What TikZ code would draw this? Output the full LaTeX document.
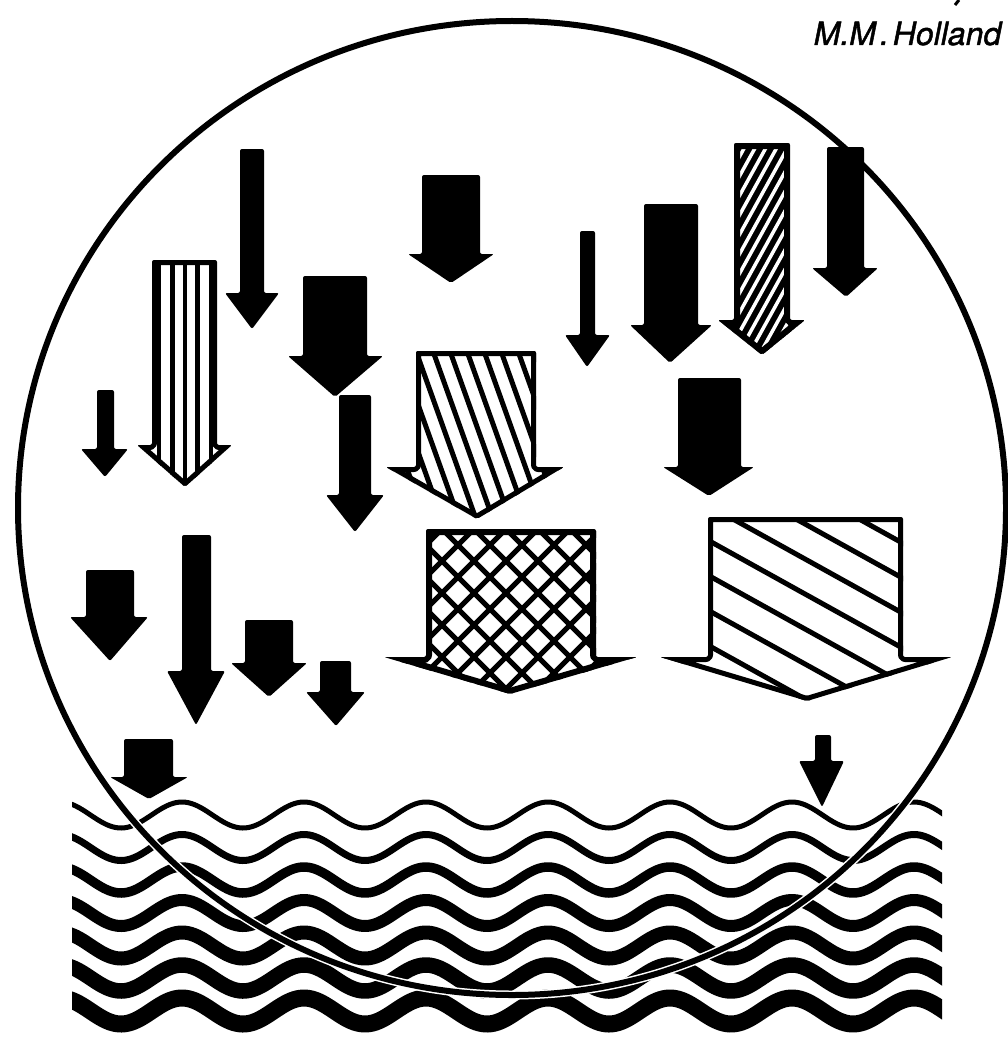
\documentclass[tikz,border=0pt]{standalone}
\usepackage{fontspec}
\newfontface\hfont[FakeSlant=0.2,FakeBold=1.5]{TeX Gyre Heros}
\newcommand\defarrow[9]{%
  \coordinate (#1-1) at (#2,#4);
  \coordinate (#1-2) at (#3,#4);
  \coordinate (#1-3) at (#3,#5);
  \coordinate (#1-4) at (#7,#5);
  \coordinate (#1-5) at (#8,#9);
  \coordinate (#1-6) at (#6,#5);
  \coordinate (#1-7) at (#2,#5);}
\newcommand\arrshape[1]{(#1-1) -- (#1-2) -- (#1-3) -- (#1-4) -- (#1-5) -- (#1-6) -- (#1-7) -- cycle}
\begin{document}
\begin{tikzpicture}[x=1pt,y=-1pt,
  solidarrow/.style={fill=black, rounded corners=2pt},
  hatchline/.style={line width=5pt},
  outline/.style={draw=black, line width=#1, rounded corners=2pt, line join=round}]
\useasboundingbox (0,0) rectangle (1008,1038);
\fill[white] (0,0) rectangle (1008,1038);

% ---------- waves ----------
\begin{scope}
  \clip (72,700) rectangle (942,1038);
  \foreach \yy/\ww in {815/5, 847.5/7, 880/9.5, 913/12, 945.5/14, 978/15.5, 1011/17}
    \draw[line width=\ww pt] plot[domain=55:960, samples=300, smooth]
      (\x, {\yy - 13*cos(2.95082*(\x-182))});
\end{scope}

% ---------- circle ----------
\coordinate (cc) at (512,508);
\draw[white, line width=9pt] (cc) ellipse[x radius=494, y radius=487];
\draw[black, line width=6pt] (cc) ellipse[x radius=494, y radius=487];

% ---------- arrow geometry ----------
\defarrow{b1}{240}{264}{149}{293}{225}{279}{252}{329}
\defarrow{b3}{97}{114}{390}{449}{81}{128}{105}{477}
\defarrow{b4}{303}{367}{276}{356}{288}{383}{335}{397}
\defarrow{b5}{339}{371}{395}{495}{326}{384}{355}{532}
\defarrow{b6}{422}{480}{175}{254}{408}{494}{451}{283}
\defarrow{b8}{580}{595}{231}{335}{565}{610}{587}{367}
\defarrow{b9}{644}{698}{204}{325}{630}{712}{670}{363}
\defarrow{b11}{827}{864}{147}{268}{812}{878}{846}{297}
\defarrow{b12}{678}{741}{378}{467}{663}{754}{709}{496}
\defarrow{la}{86}{134}{570}{617}{70}{148}{110}{661}
\defarrow{lb}{182}{211}{535}{671}{167}{225}{196}{725}
\defarrow{lc}{245}{293}{620}{663}{231}{307}{269}{697}
\defarrow{ld}{320}{351}{661}{692}{306}{365}{336}{726}
\defarrow{le}{124}{173}{739}{777}{110}{188}{149}{799}
\defarrow{br}{815}{831}{735}{761}{799}{844}{822}{807}
\defarrow{h2}{152}{217}{260}{445}{137}{232}{185}{487}
\defarrow{h7}{416}{536}{351}{467}{386}{564}{477}{519}
\defarrow{h10}{734}{790}{143}{320}{718}{805}{762}{355}
\defarrow{h13}{426}{596}{529}{657}{384}{637}{510}{694}
\defarrow{h14}{708}{903}{517}{657}{660}{952}{807}{701}

% ---------- solid arrows ----------
\foreach \n in {b1,b3,b4,b5,b6,b8,b9,b11,b12,la,lb,lc,ld,le,br}
  \fill[solidarrow] \arrshape{\n};

% ---------- vertical stripes ----------
\begin{scope}
  \clip[rounded corners=2pt] \arrshape{h2};
  \fill[white] \arrshape{h2};
  \foreach \xx in {159,172.5,185,197.5,211}
    \draw[line width=4.5pt] (\xx,250) -- (\xx,495);
  \path[outline=10pt] \arrshape{h2};
\end{scope}

% ---------- steep backslash hatch ----------
\begin{scope}
  \clip[rounded corners=2pt] \arrshape{h7};
  \fill[white] \arrshape{h7};
  \foreach \k in {0,...,16}
    \draw[hatchline] ({310+17*\k},340) -- ({381.5+17*\k},540);
  \path[outline=10pt] \arrshape{h7};
\end{scope}

% ---------- narrow slash hatch (black with white stripes) ----------
\begin{scope}
  \clip[rounded corners=2pt] \arrshape{h10};
  \fill[black] \arrshape{h10};
  \foreach \k in {0,...,24}
    \draw[white, line width=3.5pt] (700,{150+19.5*\k}) -- (830,{150+19.5*\k-235});
  \path[outline=12pt] \arrshape{h10};
\end{scope}

% ---------- cross hatch ----------
\begin{scope}
  \clip[rounded corners=2pt] \arrshape{h13};
  \fill[white] \arrshape{h13};
  \foreach \k in {-9,...,7}
    \draw[hatchline] ({413+32*\k},500) -- ({663+32*\k},750);
  \foreach \k in {-4,...,12}
    \draw[hatchline] ({503+32*\k},500) -- ({253+32*\k},750);
  \path[outline=12pt] \arrshape{h13};
\end{scope}

% ---------- shallow backslash hatch ----------
\begin{scope}
  \clip[rounded corners=2pt] \arrshape{h14};
  \fill[white] \arrshape{h14};
  \foreach \k in {-5,...,7}
    \draw[hatchline] (650,{508+35*\k}) -- (960,{680+35*\k});
  \path[outline=10pt] \arrshape{h14};
\end{scope}

% ---------- text ----------
\draw[line width=3pt] (959,0) -- (955,5);
\node[anchor=base east, inner sep=0pt, font=\hfont\fontsize{32}{38}\selectfont]
  (author) at (1000,45) {M.M\kern4pt.\kern4pt Holland};
\end{tikzpicture}
\end{document}
